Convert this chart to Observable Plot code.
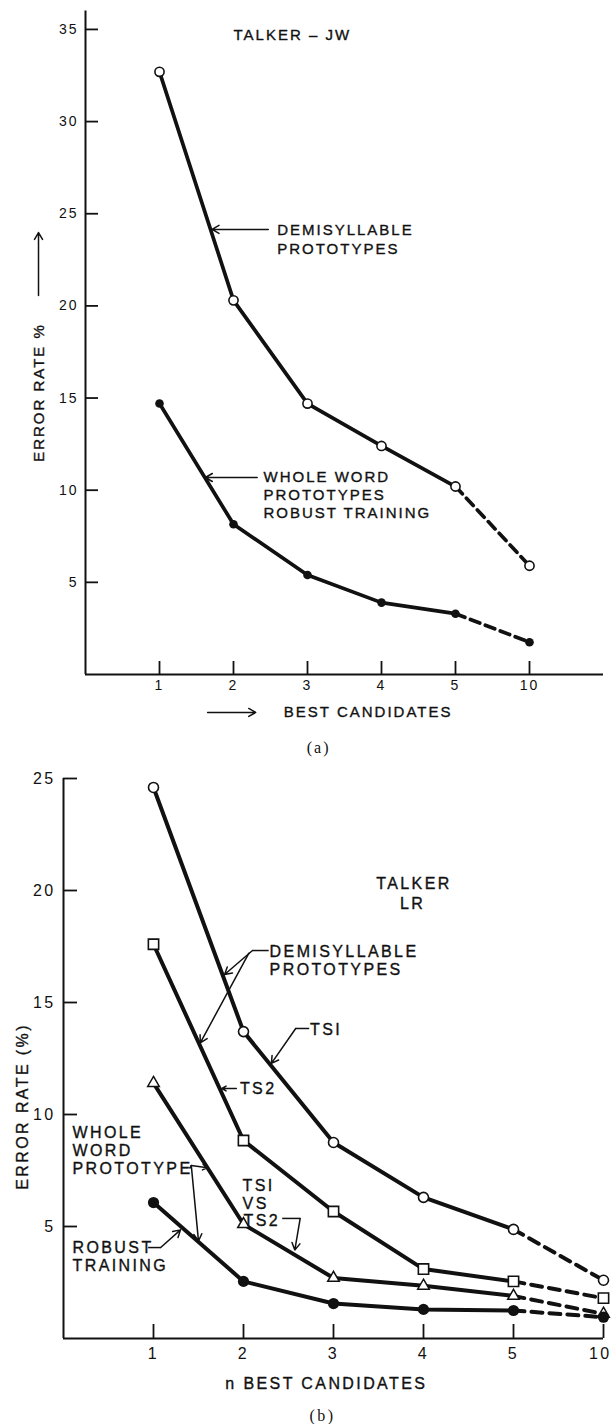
<!DOCTYPE html>
<html><head><meta charset="utf-8">
<script src="https://cdn.jsdelivr.net/npm/d3@7"></script>
<script src="https://cdn.jsdelivr.net/npm/@observablehq/plot@0.6"></script>
<style>
body{margin:0;background:#fff;}
#chart svg{display:block;}
</style></head><body><div id="chart"></div>
<script>
// ---------- data ----------
const xLabels = ["1","2","3","4","5","10"];
const candIdx = [1,2,3,4,5,6];
// panel (a) talker JW
const demiA  = [32.7, 20.3, 14.7, 12.4, 10.2, 5.9];
const wholeA = [14.7, 8.15, 5.4, 3.9, 3.3, 1.75];
const yTicksA = [5,10,15,20,25,30,35];
// panel (b) talker LR
const ts1B    = [24.6, 13.7, 8.75, 6.3, 4.87, 2.6];
const ts2B    = [17.6, 8.84, 5.67, 3.1, 2.55, 1.8];
const tsvsB   = [11.4, 5.1, 2.7, 2.35, 1.9, 1.1];
const robustB = [6.07, 2.55, 1.56, 1.3, 1.25, 0.95];
const yTicksB = [5,10,15,20,25];

// ---------- annotations (data coordinates) ----------
const notesA = [
  {x:2.0,  y:34.67, t:"TALKER – JW"},
  {x:2.59, y:24.09, t:"DEMISYLLABLE"},
  {x:2.59, y:23.1,  t:"PROTOTYPES"},
  {x:2.405,y:10.69, t:"WHOLE WORD"},
  {x:2.405,y:9.71,  t:"PROTOTYPES"},
  {x:2.405,y:8.74,  t:"ROBUST TRAINING"},
  {x:2.68, y:-2.06, t:"BEST CANDIDATES"}
];
const arrowsA = [
  {x1:2.47, y1:24.15, x2:1.71, y2:24.15},
  {x1:2.32, y1:10.69, x2:1.62, y2:10.69},
  {x1:1.65, y1:-2.06, x2:2.30, y2:-2.06},
  {x1:-0.635, y1:20.56, x2:-0.635, y2:23.98}
];
const notesB = [
  {x:3.894, y:20.31, t:"TALKER", a:"middle"},
  {x:3.88,  y:19.42, t:"LR", a:"middle"},
  {x:2.29,  y:17.25, t:"DEMISYLLABLE", a:"start"},
  {x:2.29,  y:16.45, t:"PROTOTYPES", a:"start"},
  {x:2.74,  y:13.8,  t:"TSI", a:"start"},
  {x:1.96,  y:11.16, t:"TS2", a:"start"},
  {x:0.1,   y:9.2,   t:"WHOLE", a:"start"},
  {x:0.1,   y:8.39,  t:"WORD", a:"start"},
  {x:0.1,   y:7.59,  t:"PROTOTYPE", a:"start"},
  {x:1.99,  y:6.83,  t:"TSI", a:"start"},
  {x:1.99,  y:6.03,  t:"VS", a:"start"},
  {x:2.0,   y:5.27,  t:"TS2", a:"start"},
  {x:0.1,   y:4.06,  t:"ROBUST", a:"start"},
  {x:0.1,   y:3.26,  t:"TRAINING", a:"start"},
  {x:2.92,  y:-2.01, t:"n BEST CANDIDATES", a:"middle"}
];
const linksB = [
  {x1:2.28, y1:17.32, x2:2.10, y2:17.32},
  {x1:2.73, y1:13.84, x2:2.58, y2:13.84},
  {x1:1.40, y1:7.59, x2:1.42, y2:7.72},
  {x1:2.43, y1:5.36, x2:2.63, y2:5.36},
  {x1:0.94, y1:4.06, x2:1.08, y2:4.06}
];
const arrowsB = [
  {x1:2.10, y1:17.32, x2:1.79, y2:16.25},
  {x1:2.06, y1:17.2,  x2:1.52, y2:13.2},
  {x1:2.58, y1:13.84, x2:2.31, y2:12.28},
  {x1:1.92, y1:11.16, x2:1.76, y2:11.16},
  {x1:1.42, y1:7.72,  x2:1.60, y2:7.62},
  {x1:1.42, y1:7.72,  x2:1.50, y2:4.35},
  {x1:2.63, y1:5.36,  x2:2.57, y2:3.95},
  {x1:1.08, y1:4.06,  x2:1.30, y2:4.85}
];

const INK = "#111";
const TXT = {fill:INK, stroke:INK, strokeWidth:0.35};
const pts = vals => candIdx.map((c,i)=>({x:c, y:vals[i]}));
function lineMarks(vals, w, dash) {
  const p = pts(vals);
  return [
    Plot.line(p.slice(0,5), {x:"x", y:"y", stroke:INK, strokeWidth:w, strokeLinejoin:"round"}),
    Plot.line(p.slice(4),   {x:"x", y:"y", stroke:INK, strokeWidth:w, strokeDasharray:dash})
  ];
}

// ---------- panel (a) ----------
const pxA = 74, pyA = 18.43;
const A = Plot.plot({
  width: 611, height: 762,
  marginLeft: 85, marginRight: 8, marginTop: 10.5, marginBottom: 88,
  x: {domain:[0,7], axis:null},
  y: {domain:[0,36], axis:null},
  style: {fontFamily:"'Liberation Sans', Arial, sans-serif", background:"white", color:INK, letterSpacing:"2px"},
  marks: [
    Plot.ruleX([0], {y1:0, y2:36, stroke:INK, strokeWidth:2}),
    Plot.ruleY([0], {x1:0, x2:7, stroke:INK, strokeWidth:2}),
    Plot.ruleY(yTicksA, {y:d=>d, x1:0, x2:13/pxA, stroke:INK, strokeWidth:1.8}),
    Plot.ruleX(candIdx, {x:d=>d, y1:0, y2:13/pyA, stroke:INK, strokeWidth:1.8}),
    Plot.axisY(yTicksA, {anchor:"left", tickSize:0, tickPadding:7, fontSize:14, label:null, ...TXT}),
    Plot.axisX(candIdx, {anchor:"bottom", tickSize:0, tickPadding:6, fontSize:14, label:null, tickFormat:i=>xLabels[i-1], ...TXT}),
    ...lineMarks(demiA, 3.7, "10,6"),
    ...lineMarks(wholeA, 3.7, "10,6"),
    Plot.dot(pts(demiA), {x:"x", y:"y", r:4.6, fill:"white", stroke:INK, strokeWidth:1.6}),
    Plot.dot(pts(wholeA), {x:"x", y:"y", r:4.3, fill:INK}),
    Plot.text(notesA, {x:"x", y:"y", text:"t", textAnchor:"start", lineAnchor:"middle", fontSize:15, ...TXT}),
    Plot.arrow(arrowsA, {x1:"x1", y1:"y1", x2:"x2", y2:"y2", stroke:INK, strokeWidth:1.5, headLength:8}),
    Plot.text([{x:-0.622, y:15.3, t:"ERROR RATE %"}], {x:"x", y:"y", text:"t", rotate:-90, textAnchor:"middle", lineAnchor:"middle", fontSize:15, ...TXT}),
    Plot.text([{x:3.15, y:-4.0, t:"(a)"}], {x:"x", y:"y", text:"t", textAnchor:"middle", lineAnchor:"middle", fontSize:16, fontFamily:"'Liberation Serif', serif", fill:INK})
  ]
});

// ---------- panel (b) ----------
const pxB = 90, pyB = 22.4;
const B = Plot.plot({
  width: 611, height: 662,
  marginLeft: 63, marginRight: 8, marginTop: 16, marginBottom: 86,
  x: {domain:[0,6], axis:null},
  y: {domain:[0,25], axis:null},
  style: {fontFamily:"'Liberation Sans', Arial, sans-serif", background:"white", color:INK, letterSpacing:"2.4px"},
  marks: [
    Plot.ruleX([0], {y1:0, y2:25, stroke:INK, strokeWidth:2}),
    Plot.ruleY([0], {x1:0, x2:6, stroke:INK, strokeWidth:2}),
    Plot.ruleY(yTicksB, {y:d=>d, x1:0, x2:14/pxB, stroke:INK, strokeWidth:1.8}),
    Plot.ruleX(candIdx, {x:d=>d, y1:0, y2:14/pyB, stroke:INK, strokeWidth:1.8}),
    Plot.axisY(yTicksB, {anchor:"left", tickSize:0, tickPadding:8, fontSize:16, label:null, ...TXT}),
    Plot.axisX(candIdx.slice(0,5), {anchor:"bottom", tickSize:0, tickPadding:9, fontSize:16, label:null, tickFormat:i=>xLabels[i-1], ...TXT}),
    Plot.axisX(candIdx.slice(5), {anchor:"bottom", tickSize:0, tickPadding:9, fontSize:16, label:null, textAnchor:"end", dx:8, tickFormat:i=>xLabels[i-1], ...TXT}),
    ...lineMarks(ts1B, 4, "11,7"),
    ...lineMarks(ts2B, 4, "11,7"),
    ...lineMarks(tsvsB, 4, "11,7"),
    ...lineMarks(robustB, 4, "11,7"),
    Plot.dot(pts(ts1B), {x:"x", y:"y", r:5, fill:"white", stroke:INK, strokeWidth:1.6}),
    Plot.dot(pts(ts2B), {x:"x", y:"y", r:5.8, symbol:"square", fill:"white", stroke:INK, strokeWidth:1.6}),
    Plot.dot(pts(tsvsB), {x:"x", y:"y", r:4.3, symbol:"triangle", fill:"white", stroke:INK, strokeWidth:1.5}),
    Plot.dot(pts(robustB), {x:"x", y:"y", r:5.6, fill:INK}),
    Plot.link(linksB, {x1:"x1", y1:"y1", x2:"x2", y2:"y2", stroke:INK, strokeWidth:1.5}),
    Plot.arrow(arrowsB, {x1:"x1", y1:"y1", x2:"x2", y2:"y2", stroke:INK, strokeWidth:1.5, headLength:8}),
    Plot.text(notesB.filter(d=>d.a==="start"), {x:"x", y:"y", text:"t", textAnchor:"start", lineAnchor:"middle", fontSize:16, ...TXT}),
    Plot.text(notesB.filter(d=>d.a==="middle"), {x:"x", y:"y", text:"t", textAnchor:"middle", lineAnchor:"middle", fontSize:16, ...TXT}),
    Plot.text([{x:-0.456, y:10.36, t:"ERROR RATE (%)"}], {x:"x", y:"y", text:"t", rotate:-90, textAnchor:"middle", lineAnchor:"middle", fontSize:16, ...TXT}),
    Plot.text([{x:2.878, y:-3.45, t:"(b)"}], {x:"x", y:"y", text:"t", textAnchor:"middle", lineAnchor:"middle", fontSize:16, fontFamily:"'Liberation Serif', serif", fill:INK})
  ]
});

const root = document.getElementById("chart");
root.appendChild(A);
root.appendChild(B);
d3.selectAll("#chart svg").style("overflow","visible");
</script>
</body></html>
